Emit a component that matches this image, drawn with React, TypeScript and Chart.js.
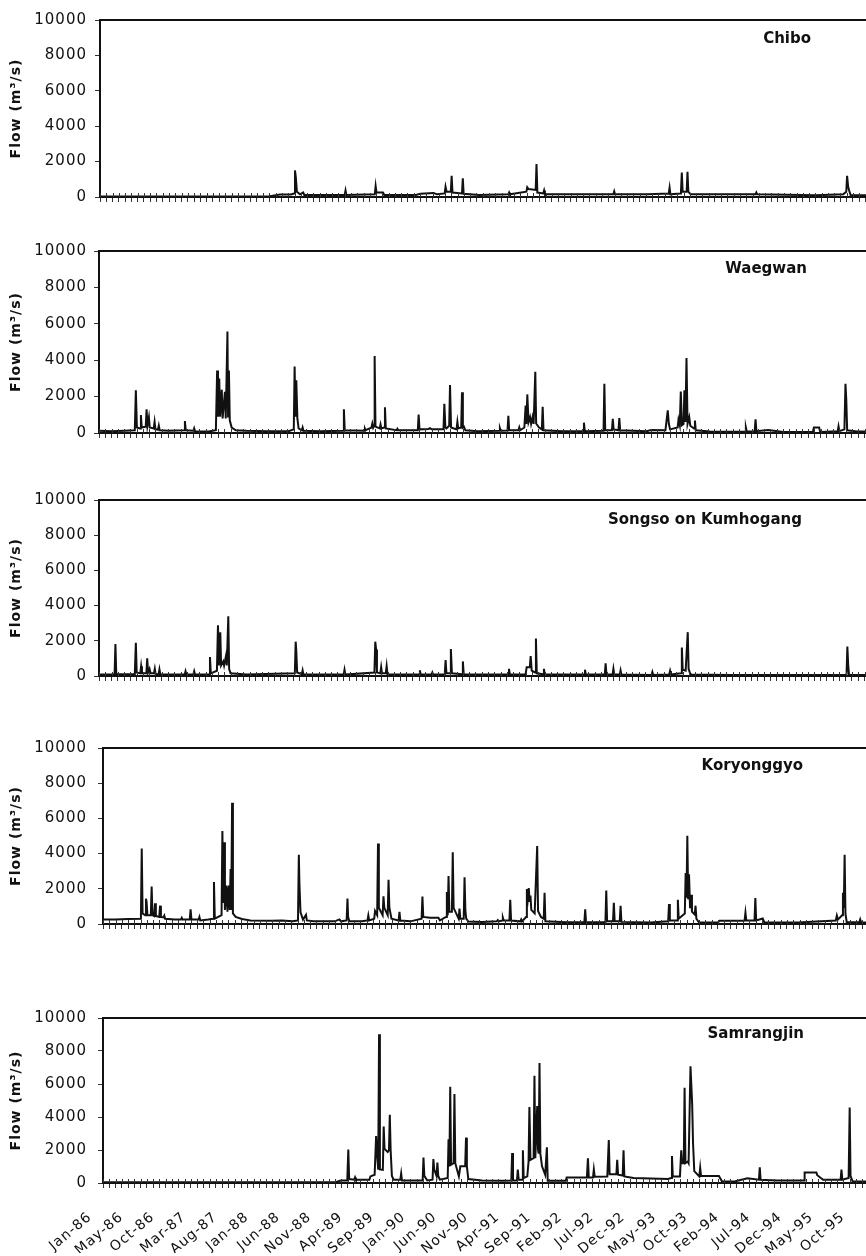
import React, { useEffect, useRef } from 'react';
import { Chart, registerables } from 'chart.js';

Chart.register(...registerables);

// ---------- data ----------
const xLabels = ['Jan-86', 'May-86', 'Oct-86', 'Mar-87', 'Aug-87', 'Jan-88', 'Jun-88', 'Nov-88', 'Apr-89', 'Sep-89',
  'Jan-90', 'Jun-90', 'Nov-90', 'Apr-91', 'Sep-91', 'Feb-92', 'Jul-92', 'Dec-92', 'May-93', 'Oct-93',
  'Feb-94', 'Jul-94', 'Dec-94', 'May-95', 'Oct-95'];
const LABEL_STEP = 149; // days between labelled ticks
const MINOR_PER_LABEL = 5;
const LAST_DAY = 3652; // days since 1 Jan 1986
const Y_MAX = 10000;
const Y_STEP = 2000;
const yTitle = 'Flow (m³/s)';

// [day since 1-Jan-1986, flow m3/s]
const chibo: [number, number][] = [
  [0, 30], [800, 30], [855, 140], [907, 140], [922, 200], [926, 1500], [930, 1110], [935, 300], [950, 150], [965, 260],
  [970, 120], [1100, 120], [1162, 120], [1166, 370], [1170, 120], [1305, 150], [1309, 620], [1313, 250], [1344, 260], [1350, 120],
  [1500, 120], [1522, 180], [1584, 230], [1600, 150], [1637, 200], [1641, 580], [1646, 300], [1666, 300], [1670, 1200], [1674, 250],
  [1719, 200], [1723, 1060], [1727, 180], [1800, 120], [1939, 150], [1943, 260], [1947, 150], [2025, 300], [2029, 550], [2035, 450],
  [2069, 400], [2073, 1860], [2077, 250], [2105, 200], [2109, 370], [2113, 150], [2300, 150], [2438, 150], [2442, 320], [2446, 150],
  [2600, 150], [2701, 200], [2705, 530], [2709, 150], [2755, 200], [2759, 300], [2763, 1380], [2767, 300], [2786, 300], [2790, 1430],
  [2794, 300], [2805, 150], [2900, 150], [3113, 150], [3117, 260], [3121, 150], [3400, 100], [3530, 150], [3544, 300], [3548, 1200],
  [3553, 580], [3558, 350], [3565, 100], [3652, 100],
];

const waegwan: [number, number][] = [
  [0, 120], [60, 100], [120, 130], [170, 150], [175, 2350], [180, 300], [195, 250], [199, 990], [203, 300], [222, 350],
  [226, 1300], [230, 400], [237, 870], [241, 300], [260, 250], [264, 610], [268, 200], [280, 180], [284, 400], [288, 150],
  [330, 120], [404, 150], [408, 660], [412, 150], [448, 120], [452, 260], [456, 100], [520, 80], [555, 150], [561, 3430],
  [565, 900], [571, 2990], [575, 900], [583, 2380], [587, 800], [598, 2260], [602, 800], [610, 5570], [613, 900], [617, 3430],
  [621, 700], [630, 300], [650, 150], [700, 120], [800, 100], [900, 100], [925, 200], [929, 3650], [933, 900], [937, 2900],
  [942, 820], [948, 250], [963, 150], [967, 300], [971, 120], [1050, 100], [1159, 120], [1163, 1300], [1167, 150], [1260, 120],
  [1263, 230], [1266, 150], [1294, 300], [1298, 520], [1302, 300], [1306, 400], [1309, 4230], [1313, 350], [1333, 250], [1337, 470],
  [1341, 250], [1354, 300], [1358, 1410], [1362, 250], [1413, 150], [1417, 230], [1421, 150], [1514, 150], [1518, 1010], [1522, 200],
  [1565, 220], [1572, 260], [1580, 200], [1636, 200], [1640, 1600], [1645, 300], [1650, 250], [1663, 400], [1667, 2630], [1672, 300],
  [1698, 200], [1702, 610], [1706, 250], [1720, 300], [1724, 2240], [1728, 300], [1733, 350], [1740, 150], [1800, 100], [1900, 120],
  [1904, 260], [1908, 120], [1940, 130], [1944, 940], [1948, 150], [1992, 150], [1996, 310], [2000, 150], [2020, 300], [2026, 1510],
  [2030, 500], [2034, 2120], [2040, 600], [2047, 870], [2052, 500], [2059, 870], [2064, 500], [2072, 3360], [2076, 520], [2090, 300],
  [2103, 200], [2107, 1440], [2111, 150], [2200, 100], [2299, 100], [2303, 570], [2307, 100], [2396, 120], [2400, 2700], [2404, 150],
  [2436, 150], [2440, 780], [2444, 200], [2467, 150], [2471, 820], [2475, 150], [2600, 100], [2622, 160], [2690, 150], [2701, 1250],
  [2706, 520], [2712, 200], [2748, 300], [2752, 730], [2758, 430], [2763, 2280], [2768, 430], [2776, 500], [2780, 2350], [2785, 600],
  [2790, 4120], [2795, 500], [2803, 870], [2808, 400], [2826, 250], [2830, 680], [2834, 150], [2900, 80], [3000, 70], [3068, 80],
  [3072, 300], [3076, 80], [3114, 100], [3118, 750], [3122, 100], [3178, 170], [3250, 60], [3390, 60], [3395, 300], [3420, 300],
  [3425, 60], [3508, 100], [3512, 365], [3516, 100], [3540, 200], [3545, 2700], [3549, 1790], [3553, 150], [3600, 80], [3652, 80],
];

const songso: [number, number][] = [
  [0, 90], [74, 100], [78, 1820], [82, 100], [170, 100], [175, 1890], [179, 200], [196, 150], [200, 560], [204, 150],
  [225, 150], [229, 1010], [233, 200], [240, 410], [245, 150], [261, 150], [265, 410], [269, 100], [283, 100], [287, 380],
  [291, 100], [407, 90], [411, 270], [415, 90], [448, 90], [452, 270], [456, 90], [523, 100], [527, 1080], [531, 150],
  [560, 300], [565, 2880], [570, 600], [576, 2490], [580, 600], [590, 830], [594, 600], [603, 1135], [607, 600], [614, 3390],
  [618, 400], [625, 150], [700, 80], [930, 150], [934, 1950], [937, 1400], [941, 200], [963, 100], [967, 320], [971, 80],
  [1162, 80], [1166, 360], [1170, 80], [1308, 200], [1312, 1950], [1316, 1500], [1320, 200], [1336, 150], [1340, 500], [1344, 150],
  [1362, 150], [1366, 560], [1370, 100], [1520, 80], [1524, 320], [1528, 80], [1579, 80], [1583, 200], [1587, 80], [1642, 100],
  [1646, 900], [1650, 150], [1667, 150], [1671, 1530], [1676, 150], [1724, 100], [1728, 830], [1732, 100], [1943, 80], [1947, 410],
  [1951, 80], [2026, 100], [2031, 500], [2046, 500], [2050, 1135], [2055, 300], [2071, 200], [2075, 2130], [2079, 150], [2109, 100],
  [2113, 410], [2117, 80], [2304, 80], [2308, 360], [2312, 80], [2402, 80], [2406, 720], [2410, 80], [2439, 80], [2443, 410],
  [2447, 80], [2473, 80], [2477, 320], [2481, 80], [2624, 60], [2628, 230], [2632, 60], [2708, 80], [2712, 290], [2716, 80],
  [2764, 150], [2768, 1620], [2772, 360], [2786, 300], [2796, 2490], [2800, 410], [2806, 180], [2812, 80], [3000, 60], [3550, 60],
  [3554, 1680], [3558, 600], [3562, 60], [3652, 60],
];

const koryonggyo: [number, number][] = [
  [0, 260], [60, 250], [120, 280], [180, 300], [184, 4290], [188, 600], [200, 500], [204, 1440], [207, 1260], [211, 500],
  [227, 500], [231, 2130], [235, 500], [243, 450], [247, 1180], [251, 450], [267, 400], [271, 1040], [275, 400], [287, 380],
  [291, 480], [295, 300], [340, 250], [370, 250], [374, 350], [378, 250], [412, 250], [416, 830], [420, 250], [454, 250],
  [458, 400], [462, 200], [500, 250], [523, 300], [527, 2390], [531, 300], [563, 500], [567, 5290], [571, 1200], [575, 4640],
  [579, 800], [587, 2180], [591, 700], [598, 2180], [602, 800], [606, 3130], [609, 800], [613, 6890], [617, 600], [630, 400],
  [660, 280], [700, 200], [800, 180], [850, 200], [900, 160], [926, 200], [930, 3940], [933, 2210], [938, 660], [950, 250],
  [964, 520], [968, 200], [1000, 150], [1100, 150], [1123, 260], [1130, 150], [1157, 200], [1161, 1440], [1164, 400], [1170, 150],
  [1230, 150], [1256, 200], [1260, 480], [1264, 200], [1288, 300], [1292, 740], [1302, 500], [1306, 4580], [1310, 920], [1328, 500],
  [1332, 1570], [1336, 920], [1352, 500], [1356, 2510], [1360, 920], [1370, 300], [1404, 200], [1408, 690], [1412, 200], [1460, 150],
  [1513, 300], [1517, 1560], [1521, 400], [1553, 350], [1593, 350], [1600, 200], [1629, 400], [1633, 1820], [1637, 500], [1641, 2730],
  [1645, 690], [1657, 690], [1661, 4070], [1665, 920], [1689, 300], [1693, 870], [1697, 300], [1713, 300], [1717, 2650], [1721, 740],
  [1725, 300], [1735, 140], [1800, 120], [1870, 150], [1875, 225], [1880, 150], [1895, 200], [1899, 360], [1903, 200], [1930, 200],
  [1934, 1380], [1938, 200], [1982, 150], [1986, 260], [1990, 150], [2009, 400], [2013, 1990], [2018, 1500], [2022, 2040], [2026, 1260],
  [2030, 1610], [2034, 800], [2050, 600], [2062, 4430], [2066, 740], [2080, 400], [2093, 300], [2097, 1780], [2101, 150], [2200, 100],
  [2286, 100], [2290, 830], [2294, 100], [2386, 100], [2390, 1900], [2394, 150], [2422, 150], [2426, 1210], [2430, 150], [2454, 150],
  [2458, 1040], [2462, 120], [2600, 80], [2684, 150], [2688, 1140], [2692, 200], [2726, 200], [2730, 1380], [2734, 300], [2763, 600],
  [2767, 2900], [2771, 1500], [2775, 5020], [2779, 1400], [2783, 2820], [2788, 900], [2793, 1660], [2797, 700], [2810, 540], [2814, 1040],
  [2818, 300], [2830, 100], [2920, 80], [2928, 190], [3038, 190], [3047, 200], [3051, 640], [3055, 200], [3094, 200], [3098, 1470],
  [3102, 200], [3133, 310], [3140, 100], [3300, 80], [3480, 200], [3485, 480], [3490, 250], [3510, 500], [3514, 1780], [3518, 900],
  [3522, 3940], [3526, 570], [3532, 100], [3592, 100], [3596, 260], [3600, 100], [3652, 80],
];

const samrangjin: [number, number][] = [
  [0, 40], [1100, 40], [1130, 150], [1160, 150], [1165, 2030], [1169, 240], [1193, 200], [1197, 340], [1201, 200], [1265, 200],
  [1270, 400], [1290, 500], [1297, 2840], [1302, 1690], [1307, 800], [1311, 9010], [1315, 820], [1329, 800], [1333, 3420], [1337, 2070],
  [1352, 1880], [1358, 1980], [1362, 4140], [1366, 1980], [1372, 430], [1380, 200], [1412, 200], [1416, 570], [1420, 150], [1518, 150],
  [1522, 1550], [1526, 430], [1540, 150], [1565, 200], [1569, 1450], [1573, 820], [1584, 430], [1588, 1240], [1592, 430], [1600, 200],
  [1637, 300], [1641, 2650], [1645, 1000], [1649, 5830], [1653, 1110], [1665, 1200], [1669, 5390], [1673, 1200], [1690, 400], [1697, 1010],
  [1705, 1010], [1720, 1010], [1724, 2750], [1728, 1010], [1735, 240], [1800, 150], [1900, 140], [1939, 150], [1943, 1820], [1947, 150],
  [1966, 150], [1970, 820], [1974, 200], [1990, 200], [1994, 1980], [1998, 300], [2015, 400], [2021, 1300], [2025, 4610], [2030, 1400],
  [2045, 1500], [2049, 6500], [2053, 1500], [2057, 2750], [2062, 4670], [2066, 2000], [2069, 1780], [2073, 7270], [2077, 1780], [2085, 1010],
  [2100, 500], [2108, 2170], [2112, 140], [2198, 140], [2202, 340], [2298, 340], [2303, 1490], [2307, 340], [2327, 340], [2331, 820],
  [2335, 380], [2395, 400], [2402, 2600], [2406, 530], [2420, 530], [2438, 530], [2442, 1400], [2446, 500], [2468, 450], [2472, 1980],
  [2476, 400], [2520, 300], [2683, 240], [2698, 300], [2702, 1630], [2706, 400], [2740, 400], [2746, 1980], [2750, 1200], [2758, 1200],
  [2762, 5770], [2766, 1200], [2777, 1300], [2781, 1200], [2790, 7080], [2798, 4770], [2802, 2460], [2808, 720], [2832, 400], [2836, 920],
  [2840, 430], [2925, 430], [2940, 90], [3000, 90], [3060, 280], [3115, 200], [3119, 950], [3123, 200], [3200, 150], [3330, 150],
  [3332, 630], [3388, 630], [3392, 470], [3420, 200], [3503, 200], [3507, 820], [3511, 200], [3541, 300], [3546, 4580], [3550, 430],
  [3560, 90], [3652, 90],
];

// ---------- layout ----------
const PAGE_MARGIN = 8;
const PAD_TOP = 12;
const PAD_RIGHT = 8;
const PLOT_WIDTH = 769;
const LABEL_RIGHT_EDGE = 87;
const DATE_LABEL_SHIFT_PX = 13;
const DATE_LABEL_PAD = 20;

type PanelCfg = {
  name: string; series: [number, number][]; top: number; bottom: number; left: number;
  labelRight: number; labelY: number; showDates: boolean;
};

const panels: PanelCfg[] = [
  { name: 'Chibo', series: chibo, top: 15, bottom: 203, left: 100, labelRight: 811, labelY: 39, showDates: false },
  { name: 'Waegwan', series: waegwan, top: 247, bottom: 438, left: 99, labelRight: 807, labelY: 269, showDates: false },
  { name: 'Songso on Kumhogang', series: songso, top: 496, bottom: 681, left: 99, labelRight: 802, labelY: 520, showDates: false },
  { name: 'Koryonggyo', series: koryonggyo, top: 740, bottom: 933, left: 103, labelRight: 803, labelY: 766, showDates: false },
  { name: 'Samrangjin', series: samrangjin, top: 1010, bottom: 1183, left: 103, labelRight: 804, labelY: 1034, showDates: true },
];

const FONT = 'DejaVu Sans';

function FlowPanel({ cfg }: { cfg: PanelCfg }) {
  const ref = useRef<HTMLCanvasElement | null>(null);
  const xAxisH = 6;
  const dateAxisH = cfg.showDates ? 64 : 0;
  const padBottom = cfg.showDates ? 0 : 5;
  const plotH = cfg.bottom - cfg.top;
  const width = cfg.left - PAGE_MARGIN + PLOT_WIDTH + PAD_RIGHT;
  const height = PAD_TOP + plotH + xAxisH + dateAxisH + padBottom;
  const canvasTopPage = cfg.top - PAD_TOP;

  useEffect(() => {
    const canvas = ref.current;
    if (!canvas) return;
    const minorTicks: number[] = [];
    const nMinor = Math.floor(LAST_DAY / (LABEL_STEP / MINOR_PER_LABEL));
    for (let k = 0; k <= nMinor; k++) minorTicks.push((k * LABEL_STEP) / MINOR_PER_LABEL);

    const pxPerDay = PLOT_WIDTH / LAST_DAY;
    const shiftDays = DATE_LABEL_SHIFT_PX / pxPerDay;

    const scales: any = {
      x: {
        type: 'linear', position: 'bottom', weight: 0, min: 0, max: LAST_DAY,
        afterBuildTicks: (s: any) => { s.ticks = minorTicks.map((v) => ({ value: v })); },
        afterFit: (s: any) => { s.height = xAxisH; },
        ticks: { display: false, autoSkip: false },
        grid: { drawOnChartArea: false, drawTicks: true, tickLength: 5, color: '#333', lineWidth: 1 },
        border: { display: true, color: '#111', width: 2 },
      },
      y: {
        position: 'left', min: 0, max: Y_MAX,
        afterFit: (s: any) => { s.width = cfg.left - PAGE_MARGIN; },
        ticks: {
          stepSize: Y_STEP, padding: cfg.left - 5 - LABEL_RIGHT_EDGE,
          font: { family: FONT, size: 15 }, color: '#111',
          callback: (v: any) => String(v),
        },
        grid: { drawOnChartArea: false, drawTicks: true, tickLength: 5, color: '#333', lineWidth: 1 },
        border: { display: true, color: '#111', width: 2 },
        title: {
          display: true, text: yTitle, color: '#111',
          font: { family: FONT, size: 14, weight: 'bold' }, padding: { top: 0, bottom: 0 },
        },
      },
    };
    if (cfg.showDates) {
      scales.xl = {
        type: 'linear', position: 'bottom', weight: 1,
        min: shiftDays, max: LAST_DAY + shiftDays,
        afterBuildTicks: (s: any) => { s.ticks = xLabels.map((_, i) => ({ value: i * LABEL_STEP })); },
        afterFit: (s: any) => { s.height = dateAxisH; },
        ticks: {
          autoSkip: false, maxRotation: 40, minRotation: 40, padding: DATE_LABEL_PAD,
          font: { family: FONT, size: 14 }, color: '#111',
          callback: (v: any) => xLabels[Math.round(v / LABEL_STEP)] ?? '',
        },
        grid: { display: false, drawTicks: false },
        border: { display: false },
      };
    }

    const decor = {
      id: 'panelDecor',
      beforeDraw(chart: any) { chart.ctx.letterSpacing = '1px'; },
      afterDraw(chart: any) {
        const { ctx, chartArea: a } = chart;
        ctx.save();
        ctx.letterSpacing = '0px';
        ctx.strokeStyle = '#111';
        ctx.lineWidth = 2;
        ctx.beginPath();
        ctx.moveTo(a.left - 1, a.top);
        ctx.lineTo(a.right, a.top);
        ctx.lineTo(a.right, a.bottom);
        ctx.stroke();
        const xs = chart.scales.x;
        ctx.lineWidth = 1;
        ctx.strokeStyle = '#333';
        ctx.beginPath();
        for (const t of xs.ticks) {
          const px = Math.round(xs.getPixelForValue(t.value)) + 0.5;
          ctx.moveTo(px, a.bottom);
          ctx.lineTo(px, a.bottom - 4);
        }
        ctx.stroke();
        ctx.font = `bold 15px "${FONT}"`;
        ctx.fillStyle = '#111';
        ctx.textAlign = 'right';
        ctx.textBaseline = 'middle';
        ctx.fillText(cfg.name, cfg.labelRight - PAGE_MARGIN, cfg.labelY - canvasTopPage);
        ctx.restore();
      },
    };

    const chart = new Chart(canvas, {
      type: 'line',
      data: {
        datasets: [{
          data: cfg.series.map(([d, f]) => ({ x: d, y: f })),
          xAxisID: 'x', yAxisID: 'y',
          borderColor: '#111', borderWidth: 2, pointRadius: 0, tension: 0, fill: false,
        }],
      },
      options: {
        responsive: false,
        animation: false,
        layout: { padding: { top: PAD_TOP, right: PAD_RIGHT, bottom: padBottom, left: 0 } },
        plugins: { legend: { display: false }, tooltip: { enabled: false } },
        scales,
      } as any,
      plugins: [decor],
    });
    return () => chart.destroy();
  }, []);

  return (
    <canvas
      ref={ref}
      width={width}
      height={height}
      style={{ position: 'absolute', left: 0, top: canvasTopPage - PAGE_MARGIN, width, height }}
    />
  );
}

export default function App() {
  return (
    <div style={{ position: 'absolute', left: PAGE_MARGIN, top: PAGE_MARGIN, width: 858, height: 1248, overflow: 'hidden', background: '#fff' }}>
      {panels.map((p) => <FlowPanel key={p.name} cfg={p} />)}
    </div>
  );
}
